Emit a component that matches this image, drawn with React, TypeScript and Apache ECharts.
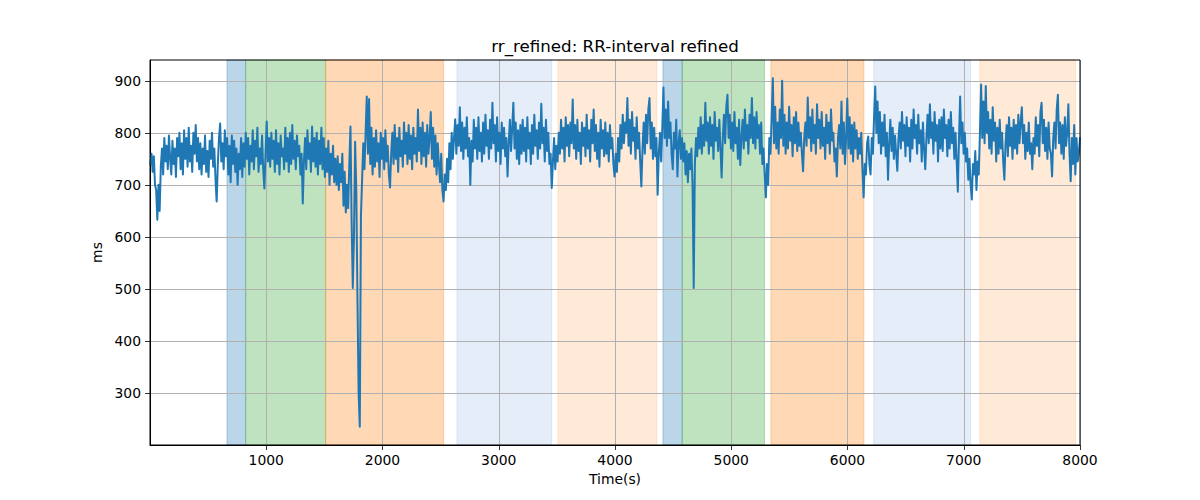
import React, { useEffect, useRef } from "react";
import * as echarts from "echarts";

const TITLE = "rr_refined: RR-interval refined";
const X_NAME = "Time(s)";
const Y_NAME = "ms";
const X_TICKS = [1000, 2000, 3000, 4000, 5000, 6000, 7000, 8000];
const Y_TICKS = [300, 400, 500, 600, 700, 800, 900];
const X_MIN = 0;
const X_MAX = 8000;
const Y_MIN = 200;
const Y_MAX = 940;

const SAMPLE_START = 3;
const SAMPLE_END = 8000;

// RR intervals (ms); evenly spaced samples (~10 s apart)
const RR_VALUES = [
  // 0 - 400 s
  740, 760, 725, 755, 700, 690, 633, 700, 650, 735, 770, 720, 790, 745, 775, 730, 795, 750, 720, 785,
  740, 770, 715, 790, 755, 800, 730, 780, 720, 805, 750, 790, 735, 810, 745, 775, 725, 800, 760, 815,
  // 400 - 800 s
  745, 790, 730, 780, 720, 770, 740, 795, 725, 765, 715, 785, 750, 800, 735, 770, 710, 668, 740, 790,
  818, 745, 780, 730, 805, 755, 790, 720, 775, 705, 795, 740, 785, 725, 770, 700, 760, 730, 790, 715,
  // 800 - 1200 s
  780, 735, 800, 750, 790, 720, 775, 745, 805, 730, 785, 755, 810, 725, 770, 740, 795, 730, 693, 760,
  822, 745, 790, 735, 800, 750, 785, 725, 805, 740, 780, 720, 795, 755, 770, 730, 810, 745, 790, 725,
  // 1200 - 1600 s
  800, 740, 815, 750, 785, 730, 795, 755, 775, 720, 760, 664, 745, 790, 730, 805, 750, 780, 725, 812,
  745, 790, 735, 800, 720, 785, 740, 810, 730, 790, 715, 770, 725, 785, 700, 760, 720, 775, 705, 750,
  // 1600 - 2000 s
  700, 755, 690, 740, 705, 760, 660, 725, 647, 700, 655, 740, 812, 627, 502, 600, 783, 690, 483, 300,
  235, 640, 710, 780, 730, 800, 870, 760, 865, 740, 810, 720, 790, 735, 805, 745, 780, 715, 800, 750,
  // 2000 - 2400 s
  790, 730, 805, 745, 775, 720, 695, 760, 800, 740, 815, 750, 790, 725, 810, 755, 785, 735, 820, 760,
  800, 740, 815, 750, 795, 730, 810, 760, 790, 745, 845, 765, 810, 740, 820, 755, 800, 735, 815, 760,
  // 2400 - 2800 s
  790, 840, 750, 810, 735, 795, 720, 780, 740, 705, 760, 690, 668, 720, 690, 750, 705, 780, 730, 800,
  750, 790, 826, 760, 815, 775, 849, 765, 820, 750, 810, 770, 830, 755, 790, 700, 785, 745, 825, 770,
  // 2800 - 3200 s
  810, 750, 830, 765, 800, 745, 820, 760, 835, 775, 805, 750, 825, 770, 858, 780, 815, 745, 830, 765,
  800, 740, 820, 770, 810, 755, 790, 716, 780, 825, 765, 810, 858, 770, 820, 750, 805, 740, 815, 760,
  // 3200 - 3600 s
  825, 765, 810, 745, 830, 770, 800, 740, 815, 760, 835, 775, 805, 750, 820, 770, 856, 780, 810, 745,
  825, 765, 800, 740, 760, 694, 745, 790, 730, 775, 745, 800, 760, 825, 770, 810, 745, 830, 775, 815,
  // 3600 - 4000 s
  755, 820, 780, 864, 770, 815, 750, 825, 765, 800, 740, 820, 775, 810, 755, 835, 770, 805, 745, 825,
  780, 845, 765, 815, 750, 800, 735, 825, 770, 805, 755, 820, 760, 800, 745, 815, 770, 790, 740, 716,
  // 4000 - 4400 s
  760, 725, 790, 745, 815, 770, 835, 780, 820, 800, 867, 775, 825, 760, 840, 785, 810, 750, 830, 770,
  800, 745, 697, 770, 820, 760, 835, 780, 845, 867, 770, 820, 750, 810, 755, 790, 681, 760, 800, 745,
  // 4400 - 4800 s
  810, 887, 790, 845, 775, 860, 790, 820, 760, 730, 800, 770, 825, 716, 780, 805, 750, 790, 745, 780,
  720, 765, 705, 760, 730, 770, 700, 502, 740, 790, 755, 810, 770, 830, 760, 815, 775, 858, 785, 820,
  // 4800 - 5200 s
  760, 830, 775, 815, 750, 840, 785, 810, 765, 825, 770, 714, 790, 835, 780, 850, 873, 790, 835, 770,
  820, 765, 840, 780, 810, 750, 825, 738, 790, 825, 770, 845, 785, 815, 760, 835, 790, 867, 780, 830,
  // 5200 - 5600 s
  770, 840, 790, 815, 760, 820, 740, 770, 720, 676, 740, 700, 790, 760, 830, 905, 780, 850, 770, 820,
  760, 845, 790, 900, 775, 835, 760, 820, 770, 850, 785, 815, 755, 830, 780, 840, 765, 820, 775, 800,
  // 5600 - 6000 s
  760, 726, 790, 820, 775, 868, 790, 830, 765, 845, 780, 815, 760, 855, 790, 825, 770, 840, 775, 810,
  750, 835, 780, 820, 760, 845, 785, 800, 745, 770, 716, 790, 815, 770, 860, 760, 820, 740, 790, 866,
  // 6000 - 6400 s
  770, 830, 760, 815, 745, 820, 770, 805, 750, 790, 760, 800, 730, 676, 740, 720, 780, 793, 740, 720,
  790, 760, 830, 889, 800, 860, 780, 840, 760, 820, 775, 835, 755, 800, 710, 780, 825, 765, 810, 750,
  // 6400 - 6800 s
  795, 760, 727, 790, 820, 770, 840, 785, 815, 755, 830, 775, 810, 745, 825, 770, 845, 790, 815, 760,
  835, 780, 805, 745, 820, 770, 730, 790, 835, 780, 855, 790, 820, 760, 840, 785, 815, 745, 825, 770,
  // 6800 - 7200 s
  830, 765, 845, 790, 815, 755, 825, 770, 840, 780, 810, 750, 800, 745, 687, 790, 870, 780, 820, 760,
  800, 745, 770, 710, 750, 700, 672, 740, 720, 765, 690, 745, 720, 800, 893, 790, 860, 780, 890, 800,
  // 7200 - 7600 s
  840, 770, 825, 760, 849, 785, 820, 745, 810, 760, 825, 770, 800, 745, 710, 780, 815, 755, 830, 775,
  810, 750, 825, 770, 815, 760, 835, 780, 820, 849, 780, 815, 750, 800, 765, 820, 760, 780, 730, 790,
  // 7600 - 8000 s
  760, 830, 775, 815, 755, 840, 858, 780, 825, 765, 810, 750, 820, 770, 760, 716, 790, 820, 770, 845,
  873, 780, 820, 760, 815, 750, 830, 775, 800, 855, 760, 707, 790, 740, 815, 720, 790, 745, 760, 790,
];

// shaded time spans
const SPAN_STARTS = [662, 823, 1511, 2640, 3509, 4412, 4578, 5341, 6226, 7138];
const SPAN_ENDS = [823, 1511, 2526, 3455, 4360, 4578, 5286, 6141, 7058, 7961];
const SPAN_KINDS = [
  "blue", "green", "orange", "lightblue", "lightorange",
  "blue", "green", "orange", "lightblue", "lightorange",
];
const SPAN_COLORS: Record<string, string> = {
  blue: "rgba(31,119,180,0.3)",
  green: "rgba(44,160,44,0.3)",
  orange: "rgba(255,127,14,0.3)",
  lightblue: "rgba(70,130,210,0.14)",
  lightorange: "rgba(255,127,14,0.16)",
};

const FONT = "DejaVu Sans";

export default function App() {
  const ref = useRef<HTMLDivElement>(null);

  useEffect(() => {
    if (!ref.current) return;
    const chart = echarts.init(ref.current, null, { renderer: "svg" });
    const step = (SAMPLE_END - SAMPLE_START) / (RR_VALUES.length - 1);
    const data = RR_VALUES.map((v, i) => [SAMPLE_START + i * step, v]);

    const areas = SPAN_STARTS.map((s, i) => [
      {
        xAxis: s,
        itemStyle: {
          color: SPAN_COLORS[SPAN_KINDS[i]],
          borderColor: SPAN_COLORS[SPAN_KINDS[i]],
          borderWidth: 1,
        },
      },
      { xAxis: SPAN_ENDS[i] },
    ]);

    const axisText = { color: "#000", fontSize: 13.9, fontFamily: FONT };
    const plain = (v: number) => String(v);

    chart.setOption({
      animation: false,
      backgroundColor: "#fff",
      textStyle: { fontFamily: FONT },
      grid: {
        left: 150,
        right: 120,
        top: 60,
        bottom: 55,
        show: true,
        borderColor: "#000",
        borderWidth: 1,
        backgroundColor: "transparent",
        z: 10,
      },
      graphic: [
        {
          type: "text",
          x: 615,
          y: 46,
          z: 20,
          style: {
            text: TITLE,
            fill: "#000",
            fontSize: 16.7,
            fontFamily: FONT,
            textAlign: "center",
            textVerticalAlign: "middle",
          },
        },
      ],
      xAxis: {
        type: "value",
        min: X_MIN,
        max: X_MAX,
        interval: 1000,
        z: 1.5,
        name: X_NAME,
        nameLocation: "middle",
        nameGap: 27,
        nameTextStyle: axisText,
        axisLine: { show: true, lineStyle: { color: "#000", width: 1 } },
        axisTick: {
          show: true,
          length: 5,
          customValues: X_TICKS,
          lineStyle: { color: "#000", width: 0.8 },
        },
        axisLabel: { ...axisText, margin: 8, customValues: X_TICKS, formatter: plain },
        splitLine: { show: true, lineStyle: { color: "#b0b0b0", width: 1 } },
      },
      yAxis: {
        type: "value",
        min: Y_MIN,
        max: Y_MAX,
        interval: 100,
        z: 1.5,
        name: Y_NAME,
        nameLocation: "middle",
        nameGap: 42,
        nameRotate: 90,
        nameTextStyle: axisText,
        axisLine: { show: true, lineStyle: { color: "#000", width: 1 } },
        axisTick: {
          show: true,
          length: 5,
          customValues: Y_TICKS,
          lineStyle: { color: "#000", width: 0.8 },
        },
        axisLabel: { ...axisText, margin: 9, customValues: Y_TICKS, formatter: plain },
        splitLine: { show: true, lineStyle: { color: "#b0b0b0", width: 1 } },
      },
      series: [
        {
          type: "line",
          data,
          showSymbol: false,
          symbol: "none",
          z: 2,
          lineStyle: { color: "#1f77b4", width: 2, join: "round", cap: "round" },
          itemStyle: { color: "#1f77b4" },
          markArea: {
            silent: true,
            z: 1,
            data: areas,
          },
        },
      ],
    });

    return () => chart.dispose();
  }, []);

  return (
    <div
      ref={ref}
      style={{ position: "fixed", left: 0, top: 0, width: 1200, height: 500 }}
    />
  );
}
